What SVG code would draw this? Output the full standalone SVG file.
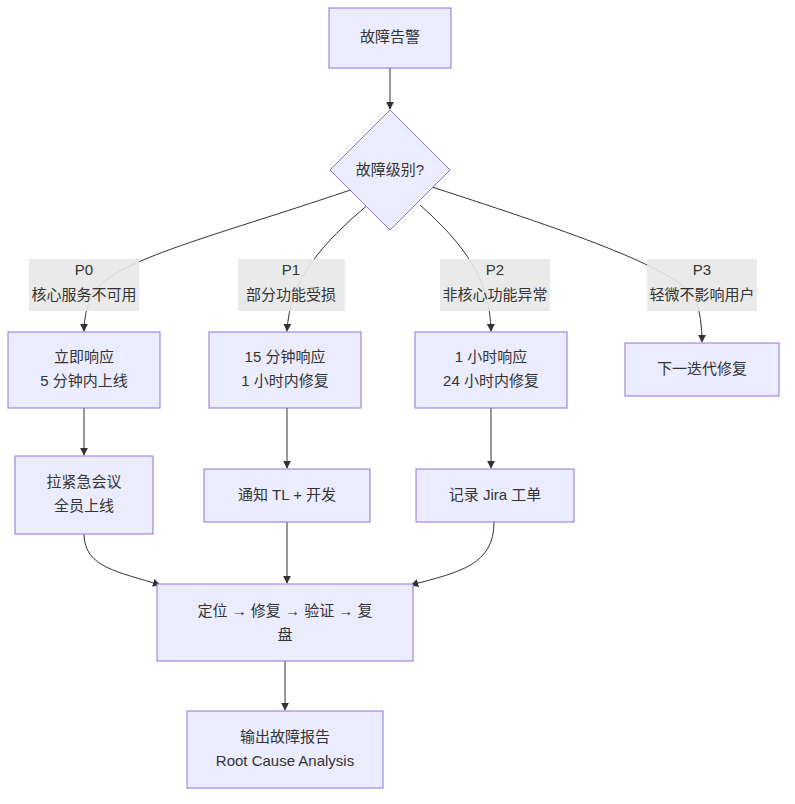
<svg xmlns="http://www.w3.org/2000/svg" width="795" height="804" viewBox="0 0 795 804">
<defs>
<marker id="ah" viewBox="0 0 10 10" refX="9" refY="5" markerWidth="8" markerHeight="8" orient="auto"><path d="M0,0L10,5L0,10z" fill="#333"/></marker>
<style>
.n{fill:#ECECFF;stroke:#9370DB;stroke-width:1}
.t{font-family:"Liberation Sans","Noto Sans CJK SC",sans-serif;font-size:15px;fill:#333;text-anchor:middle;dominant-baseline:middle}
.e{fill:none;stroke:#333;stroke-width:1;marker-end:url(#ah)}
.lb{fill:#e8e8e8;opacity:0.9}
</style>
</defs>
<rect width="795" height="804" fill="#fff"/>
<g id="connectors">
<path class="e" d="M390,68V109"/>
<path class="e" d="M362,186C220,235 110,260 92,295Q84,312 84,331"/>
<path class="e" d="M370,203C320,245 290,280 287,331"/>
<path class="e" d="M420,205C465,245 490,280 491,331"/>
<path class="e" d="M432,187C580,235 680,270 696,300Q702,318 702,342"/>
<path class="e" d="M84,408V455"/>
<path class="e" d="M287,408V468"/>
<path class="e" d="M491,408V468"/>
<path class="e" d="M84,534C84,568 120,572 160,585"/>
<path class="e" d="M287,522V583"/>
<path class="e" d="M494,522C494,565 460,572 411,585"/>
<path class="e" d="M285,661V710"/>
</g>
<g id="labels">
<rect class="lb" x="29" y="259" width="110" height="52"/><text class="t" x="84" y="271">P0</text><text class="t" x="84" y="296">核心服务不可用</text>
<rect class="lb" x="238" y="259" width="107" height="52"/><text class="t" x="291" y="271">P1</text><text class="t" x="291" y="296">部分功能受损</text>
<rect class="lb" x="440" y="259" width="110" height="52"/><text class="t" x="495" y="271">P2</text><text class="t" x="495" y="296">非核心功能异常</text>
<rect class="lb" x="647" y="259" width="110" height="52"/><text class="t" x="702" y="271">P3</text><text class="t" x="702" y="296">轻微不影响用户</text>
</g>
<g id="alert"><rect class="n" x="329" y="8" width="122" height="60"/><text class="t" x="390" y="38">故障告警</text></g>
<g id="level"><path class="n" d="M390,110L450,170L390,230L330,170z"/><text class="t" x="390" y="171">故障级别?</text></g>
<g id="p0"><rect class="n" x="8" y="332" width="152" height="76"/><text class="t" x="84" y="358">立即响应</text><text class="t" x="84" y="382">5 分钟内上线</text></g>
<g id="p1"><rect class="n" x="209" y="332" width="152" height="76"/><text class="t" x="285" y="358">15 分钟响应</text><text class="t" x="285" y="382">1 小时内修复</text></g>
<g id="p2"><rect class="n" x="415" y="332" width="152" height="76"/><text class="t" x="491" y="358">1 小时响应</text><text class="t" x="491" y="382">24 小时内修复</text></g>
<g id="p3"><rect class="n" x="625" y="343" width="154" height="53"/><text class="t" x="702" y="370">下一迭代修复</text></g>
<g id="meet"><rect class="n" x="15" y="456" width="138" height="78"/><text class="t" x="84" y="483">拉紧急会议</text><text class="t" x="84" y="507">全员上线</text></g>
<g id="notify"><rect class="n" x="204" y="469" width="166" height="53"/><text class="t" x="287" y="496">通知 TL + 开发</text></g>
<g id="jira"><rect class="n" x="416" y="469" width="158" height="53"/><text class="t" x="495" y="496">记录 Jira 工单</text></g>
<g id="fix"><rect class="n" x="157" y="584" width="256" height="77"/><text class="t" x="285" y="612">定位 → 修复 → 验证 → 复</text><text class="t" x="285" y="636">盘</text></g>
<g id="report"><rect class="n" x="187" y="711" width="196" height="77"/><text class="t" x="285" y="738">输出故障报告</text><text class="t" x="285" y="762">Root Cause Analysis</text></g>
</svg>
